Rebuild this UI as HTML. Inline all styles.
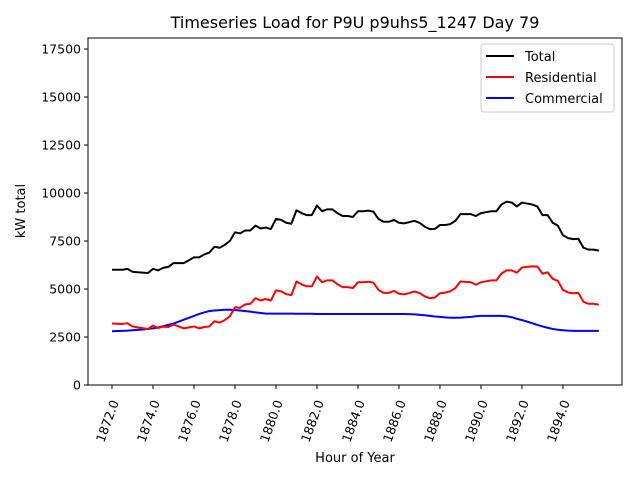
<!DOCTYPE html>
<html><head><meta charset="utf-8"><style>
body{margin:0;background:#fff}
svg{font-family:"DejaVu Sans","Liberation Sans",sans-serif}
</style></head><body>
<svg id="chart" width="640" height="480" viewBox="0 0 640 480" xmlns="http://www.w3.org/2000/svg">
<rect width="640" height="480" fill="#fff"/>
<text x="355" y="28" font-size="16" text-anchor="middle">Timeseries Load for P9U p9uhs5_1247  Day 79</text>
<g id="axes"></g>
<g id="series"></g>
<rect x="88" y="38" width="534" height="347" fill="none" stroke="#000" stroke-width="1"/>
<text x="355" y="462" font-size="13" text-anchor="middle">Hour of Year</text>
<text x="0" y="0" font-size="13" text-anchor="middle" transform="translate(25,211) rotate(-90)">kW total</text>
<g>
<rect x="481" y="44" width="133" height="68" rx="3" fill="#fff" stroke="#ccc"/>
<line x1="486" y1="56" x2="514" y2="56" stroke="#000" stroke-width="2"/>
<text x="525" y="61" font-size="13">Total</text>
<line x1="486" y1="77" x2="514" y2="77" stroke="red" stroke-width="2"/>
<text x="525" y="82" font-size="13">Residential</text>
<line x1="486" y1="98" x2="514" y2="98" stroke="blue" stroke-width="2"/>
<text x="525" y="103" font-size="13">Commercial</text>
</g>
</svg>
<script>
const startHour = 1872;
const stepHours = 0.25;
const xTicks = [1872,1874,1876,1878,1880,1882,1884,1886,1888,1890,1892,1894];
const yTicks = [0,2500,5000,7500,10000,12500,15000,17500];
const total = [6000,6000,6000,6050,5900,5870,5850,5830,6050,5970,6100,6150,6350,6350,6350,6500,6650,6650,6800,6900,7200,7150,7300,7500,7950,7900,8050,8050,8300,8150,8200,8120,8650,8600,8450,8400,9100,8950,8850,8850,9350,9050,9150,9150,8950,8800,8800,8750,9050,9050,9080,9030,8650,8500,8500,8600,8450,8420,8480,8550,8450,8250,8120,8130,8330,8330,8380,8550,8900,8900,8900,8800,8950,9000,9050,9050,9400,9550,9500,9300,9500,9450,9400,9300,8850,8850,8450,8300,7800,7650,7600,7620,7150,7050,7050,7000];
const residential = [3200,3190,3180,3220,3050,3000,2960,2910,3100,2970,3040,3020,3150,3050,2950,3000,3050,2950,3020,3050,3320,3250,3380,3580,4050,4020,4200,4230,4520,4400,4480,4400,4930,4880,4730,4680,5390,5240,5140,5140,5650,5350,5450,5450,5250,5100,5100,5050,5350,5350,5380,5330,4950,4800,4800,4900,4750,4720,4790,4870,4790,4620,4520,4560,4780,4810,4880,5050,5390,5370,5350,5220,5350,5400,5450,5450,5800,5970,5970,5850,6120,6150,6180,6170,5800,5870,5530,5420,4950,4820,4780,4800,4330,4230,4230,4180];
const commercial = [2800,2810,2820,2830,2850,2870,2890,2920,2950,3000,3060,3130,3200,3300,3400,3500,3600,3700,3780,3850,3880,3900,3920,3920,3900,3880,3850,3820,3780,3750,3720,3720,3720,3720,3720,3720,3710,3710,3710,3710,3700,3700,3700,3700,3700,3700,3700,3700,3700,3700,3700,3700,3700,3700,3700,3700,3700,3700,3690,3680,3660,3630,3600,3570,3550,3520,3500,3500,3510,3530,3550,3580,3600,3600,3600,3600,3600,3580,3530,3450,3380,3300,3220,3130,3050,2980,2920,2880,2850,2830,2820,2820,2820,2820,2820,2820];

const X0=88,X1=622,Y0=385,Y1=38;
const xMin=1870.83,xMax=1896.88,yMin=0,yMax=18073;
function xs(h){return X0+(h-xMin)/(xMax-xMin)*(X1-X0);}
function ys(v){return Y0-(v-yMin)/(yMax-yMin)*(Y0-Y1);}
const NS='http://www.w3.org/2000/svg';
const axes=document.getElementById('axes');
const series=document.getElementById('series');
xTicks.forEach(t=>{
  const x=xs(t);
  const l=document.createElementNS(NS,'line');
  l.setAttribute('x1',x);l.setAttribute('x2',x);l.setAttribute('y1',Y0);l.setAttribute('y2',Y0+4);
  l.setAttribute('stroke','#000');
  
  
  axes.appendChild(l);
  const tx=document.createElementNS(NS,'text');
  tx.setAttribute('transform','translate('+(x+7)+','+(Y0+17)+') rotate(-70)');
  tx.setAttribute('text-anchor','end');
  tx.setAttribute('font-size','12.5');
  tx.textContent=t.toFixed(1);
  
  
  axes.appendChild(tx);
});
yTicks.forEach(t=>{
  const y=ys(t);
  const l=document.createElementNS(NS,'line');
  l.setAttribute('x1',X0-4);l.setAttribute('x2',X0);l.setAttribute('y1',y);l.setAttribute('y2',y);
  l.setAttribute('stroke','#000');
  
  
  axes.appendChild(l);
  const tx=document.createElementNS(NS,'text');
  tx.setAttribute('x',X0-7);tx.setAttribute('y',y+4.5);
  tx.setAttribute('text-anchor','end');
  tx.setAttribute('font-size','12.5');
  tx.textContent=String(t);
  
  
  axes.appendChild(tx);
});
function drawLine(arr,color,name){
  const pts=arr.map((v,i)=>xs(startHour+i*stepHours).toFixed(2)+','+ys(v).toFixed(2)).join(' ');
  const p=document.createElementNS(NS,'polyline');
  p.setAttribute('points',pts);
  p.setAttribute('fill','none');
  p.setAttribute('stroke',color);
  p.setAttribute('stroke-width','2');
  p.setAttribute('stroke-linejoin','round');
  
  
  series.appendChild(p);
}
drawLine(commercial,'blue','commercial-line');
drawLine(residential,'red','residential-line');
drawLine(total,'#000','total-line');
</script>
</body></html>
